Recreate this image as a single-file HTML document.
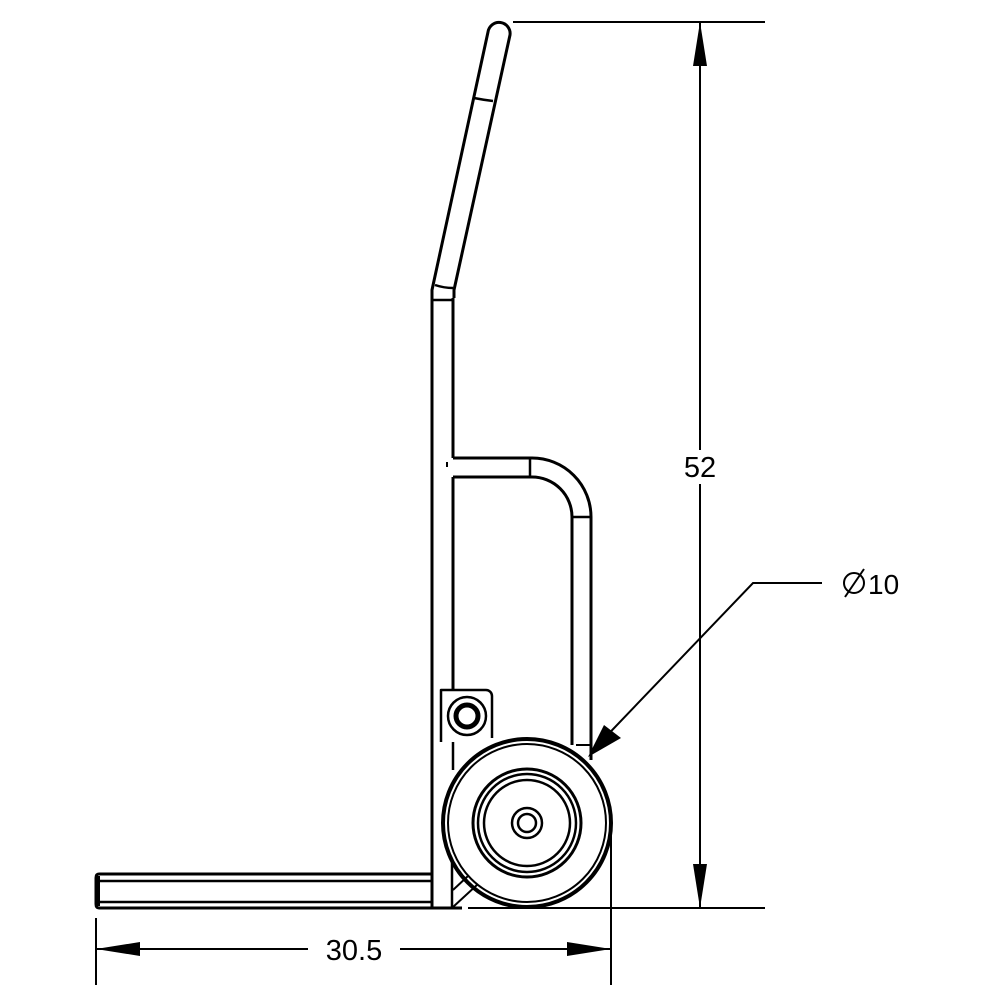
<!DOCTYPE html>
<html><head><style>html,body{margin:0;padding:0;background:#fff}</style></head>
<body>
<svg width="1000" height="1000" viewBox="0 0 1000 1000" xmlns="http://www.w3.org/2000/svg">
<g fill="none" stroke="#000" stroke-width="3" stroke-linejoin="round">
<path d="M432,298 L432,290 L488,32 A11,11 0 0 1 510,35 L454,290 L454,298"/>
<path d="M474,98 Q484,100 493,101" stroke-width="2.5"/>
<path d="M435,285 Q444,288 453,288" stroke-width="2.5"/>
<line x1="432" y1="300" x2="453" y2="300" stroke-width="2.5"/>
<line x1="432" y1="298" x2="432" y2="908"/>
<line x1="453" y1="298" x2="453" y2="458"/>
<line x1="453" y1="477" x2="453" y2="690"/>
<line x1="447" y1="462" x2="447" y2="467" stroke-width="2"/>
<path d="M453,458 L532,458 A59,59 0 0 1 591,517 L591,760"/>
<path d="M453,477 L532,477 A40,40 0 0 1 572,517 L572,745"/>
<line x1="530" y1="458" x2="530" y2="477" stroke-width="2.5"/>
<line x1="572" y1="517" x2="591" y2="517" stroke-width="2.5"/>
<path d="M441,742 L441,690 L486,690 A6,6 0 0 1 492,696 L492,738" stroke-width="2.5"/>
<circle cx="467" cy="716" r="19" stroke-width="2.5"/>
<circle cx="467" cy="716" r="11" stroke-width="5"/>
<line x1="453" y1="742" x2="453" y2="770" stroke-width="2.5"/>
<path d="M432,874 L99,874 Q96,874 96,878 L96,904 Q96,908 99,908 L462,908"/>
<line x1="99" y1="881" x2="432" y2="881" stroke-width="2.5"/>
<line x1="99" y1="902" x2="432" y2="902" stroke-width="2.5"/>
<line x1="98" y1="876" x2="98" y2="906" stroke-width="4"/>
<line x1="452" y1="862" x2="452" y2="908" stroke-width="2.5"/>
<line x1="453" y1="890" x2="468" y2="876" stroke-width="2"/>
<line x1="453" y1="907" x2="478" y2="884" stroke-width="2"/>
<circle cx="527" cy="823" r="84" stroke-width="4"/>
<circle cx="527" cy="823" r="79" stroke-width="2"/>
<circle cx="527" cy="823" r="54" stroke-width="3"/>
<circle cx="527" cy="823" r="49" stroke-width="2.5"/>
<circle cx="527" cy="823" r="43" stroke-width="2.5"/>
<circle cx="527" cy="823" r="15" stroke-width="2.5"/>
<circle cx="527" cy="823" r="9" stroke-width="2.5"/>
<line x1="576" y1="745" x2="591" y2="745" stroke-width="2"/>
</g>
<g stroke="#000" stroke-width="2" fill="none">
<line x1="513" y1="22" x2="765" y2="22"/>
<line x1="468" y1="908" x2="765" y2="908"/>
<line x1="700" y1="22" x2="700" y2="450"/>
<line x1="700" y1="484" x2="700" y2="908"/>
<line x1="96" y1="918" x2="96" y2="985"/>
<line x1="611" y1="830" x2="611" y2="985"/>
<line x1="96" y1="949" x2="308" y2="949"/>
<line x1="400" y1="949" x2="611" y2="949"/>
<polyline points="822,583 753,583 595,748"/>
</g>
<g fill="#000">
<polygon points="700,22 693,66 707,66"/>
<polygon points="700,908 693,864 707,864"/>
<polygon points="96,949 140,942 140,956"/>
<polygon points="611,949 567,942 567,956"/>
<polygon points="588,757 604,725 621,738"/>
</g>
<g font-family="'Liberation Sans', sans-serif" font-size="29" fill="#000">
<text x="700" y="477" text-anchor="middle">52</text>
<text x="354" y="960" text-anchor="middle">30.5</text>
<text x="868" y="594" font-size="28">10</text>
</g>
<g stroke="#000" stroke-width="2" fill="none">
<circle cx="854" cy="583" r="10"/>
<line x1="845" y1="597" x2="864" y2="569"/>
</g>
</svg>
</body></html>
